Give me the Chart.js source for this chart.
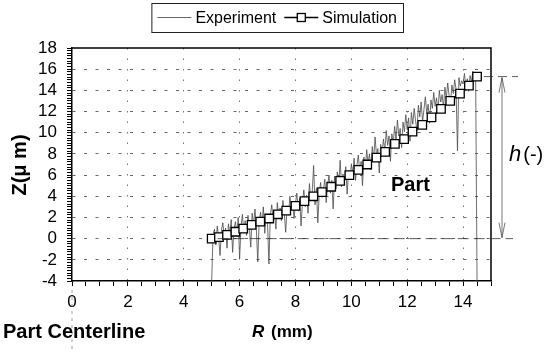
<!DOCTYPE html>
<html><head><meta charset="utf-8">
<script src="https://cdn.jsdelivr.net/npm/chart.js@4/dist/chart.umd.min.js"></script>
<style>html,body{margin:0;padding:0;background:#fff;}#wrap{width:544px;height:352px;}</style>
</head><body><div id="wrap"><canvas id="c" width="544" height="352"></canvas></div>
<script>
// ---- data ----
const simR = [5.0, 5.26, 5.55, 5.85, 6.13, 6.43, 6.74, 7.06, 7.37, 7.67, 8.0, 8.32, 8.64, 8.95, 9.28, 9.6, 9.93, 10.25, 10.57, 10.9, 11.21, 11.56, 11.89, 12.19, 12.54, 12.87, 13.21, 13.54, 13.89, 14.21, 14.5];
const simZ = [0, 0.15, 0.35, 0.65, 0.95, 1.3, 1.6, 1.9, 2.3, 2.65, 3.1, 3.55, 4.0, 4.4, 4.9, 5.45, 6.0, 6.5, 7.0, 7.65, 8.2, 8.95, 9.4, 10.1, 10.75, 11.45, 12.25, 13.0, 13.7, 14.45, 15.3];
const expStartR = 5.0;
const expStepR = 0.05;
const expZ = [
 -4.0, 0.4, 0.9, -0.6, 1.2, 0.1, -1.6, 0.8, 1.5, 0.2,
 1.0, -0.9, 1.4, 0.5, 1.8, -1.3, 0.9, 1.6, 0.4, 2.0,
 -1.9, 1.1, 2.3, 0.6, 1.7, 0.3, 2.2, 1.0, -0.8, 2.4,
 1.3, 2.8, 0.9, -2.2, 1.6, 2.5, 1.2, 3.0, 0.5, 2.1,
 1.4, -2.4, 2.2, 3.2, 1.8, 2.6, 0.9, 3.4, 2.0, 2.9,
 1.7, 3.6, 2.4, 0.6, 3.1, 2.2, 4.0, 2.7, 3.5, 1.9,
 3.3, 4.3, 2.6, 3.8, 1.2, 3.5, 4.6, 3.0, 4.1, 2.4,
 5.2, 3.6, 4.4, 6.9, 3.2, 4.8, 1.5, 4.2, 5.3, 3.9,
 4.6, 5.6, 3.4, 5.0, 6.0, 4.3, 5.5, 2.8, 5.9, 4.7,
 6.3, 5.1, 7.4, 4.9, 6.1, 5.4, 6.8, 4.2, 6.4, 5.7,
 7.0, 6.2, 7.6, 5.5, 6.9, 7.9, 6.3, 7.3, 5.0, 7.7,
 6.6, 8.4, 7.1, 8.0, 6.5, 8.7, 7.4, 9.6, 7.9, 8.5,
 6.2, 8.9, 8.1, 9.4, 8.3, 10.2, 8.8, 9.7, 7.3, 9.9,
 9.0, 10.6, 9.3, 11.2, 9.7, 10.4, 8.6, 11.0, 10.1, 11.7,
 10.3, 11.4, 9.2, 11.9, 10.8, 12.3, 11.1, 10.2, 12.6, 11.5,
 12.9, 11.0, 12.2, 13.4, 11.8, 12.7, 10.9, 13.1, 12.3, 13.8,
 12.5, 13.3, 11.9, 14.0, 12.9, 13.6, 12.4, 14.3, 13.2, 14.7,
 13.5, 12.8, 14.5, 13.7, 15.0, 14.1, 8.3, 15.2, 14.4, 14.9,
 14.6, 15.6, 14.2, 15.1, 13.9, 15.4, 14.8, 15.8, 15.0, 15.5,
 -4.0
];
const xTickLabels = [0, 2, 4, 6, 8, 10, 12, 14];
const yTickLabels = [-4, -2, 0, 2, 4, 6, 8, 10, 12, 14, 16, 18];
const seriesNames = ['Experiment', 'Simulation'];
const heightLevels = [0, 15.3]; // h(-) annotation levels (µm)

// ---- build ----
const FONT = "'Liberation Sans', Arial, sans-serif";
const simPts = simR.map((r, i) => ({x: r, y: simZ[i]}));
const expPts = expZ.map((z, i) => ({x: +(expStartR + i * expStepR).toFixed(3), y: z}));
const isX = v => xTickLabels.some(t => Math.abs(t - v) < 1e-9);
const isY = v => yTickLabels.some(t => Math.abs(t - v) < 1e-9);

const annot = {
  id: 'annot',
  afterDraw(chart) {
    const {ctx, chartArea: a, scales: {x, y}} = chart;
    ctx.save();
    // frame top/right
    ctx.strokeStyle = '#000'; ctx.lineWidth = 1.5; ctx.setLineDash([]);
    ctx.beginPath(); ctx.moveTo(a.left, a.top); ctx.lineTo(a.right, a.top); ctx.lineTo(a.right, a.bottom); ctx.stroke();

    // h annotation
    const y0 = y.getPixelForValue(heightLevels[0]);
    const y1 = y.getPixelForValue(heightLevels[1]);
    ctx.strokeStyle = '#333'; ctx.lineWidth = 0.8;
    ctx.setLineDash([11, 5]);
    ctx.beginPath(); ctx.moveTo(x.getPixelForValue(simR[0]) + 6, y0); ctx.lineTo(513, y0); ctx.stroke();
    ctx.setLineDash([9, 5]);
    ctx.beginPath(); ctx.moveTo(x.getPixelForValue(simR[simR.length - 1]) + 7, y1); ctx.lineTo(518, y1); ctx.stroke();
    ctx.setLineDash([]);
    const ax = 502;
    ctx.strokeStyle = '#555'; ctx.lineWidth = 0.8;
    ctx.beginPath(); ctx.moveTo(ax, y1 + 1); ctx.lineTo(ax, y0 - 1); ctx.stroke();
    ctx.beginPath();
    ctx.moveTo(ax - 3, y1 + 16); ctx.lineTo(ax, y1 + 1); ctx.lineTo(ax + 3, y1 + 16);
    ctx.moveTo(ax - 3, y0 - 16); ctx.lineTo(ax, y0 - 1); ctx.lineTo(ax + 3, y0 - 16);
    ctx.stroke();
    ctx.fillStyle = '#000'; ctx.textBaseline = 'middle'; ctx.textAlign = 'left';
    ctx.font = 'italic 22px ' + FONT;
    ctx.fillText('h', 509, 155);
    const hw = ctx.measureText('h').width;
    ctx.font = '20px ' + FONT;
    ctx.fillText('(-)', 509 + hw + 2, 155);

    // Part label
    ctx.font = 'bold 20px ' + FONT;
    ctx.fillText('Part', 391, 185);

    // centerline
    const cx = x.getPixelForValue(0);
    ctx.strokeStyle = '#888'; ctx.lineWidth = 0.8; ctx.setLineDash([3, 4]);
    ctx.beginPath(); ctx.moveTo(cx, 290); ctx.lineTo(cx, 352); ctx.stroke();
    ctx.setLineDash([]);
    ctx.fillStyle = '#000';
    ctx.font = 'bold 20px ' + FONT;
    ctx.textAlign = 'left';
    ctx.fillText('Part Centerline', 3, 332);

    // x title
    ctx.font = 'bold italic 17px ' + FONT;
    ctx.fillText('R', 252, 332);
    const rw = ctx.measureText('R').width;
    ctx.font = 'bold 17px ' + FONT;
    ctx.fillText(' (mm)', 252 + rw + 2, 332);

    // y title
    ctx.save();
    ctx.translate(20, 165); ctx.rotate(-Math.PI / 2);
    ctx.textAlign = 'center';
    ctx.font = 'bold 20px ' + FONT;
    ctx.fillText('Z(\u03bc m)', 0, 0);
    ctx.restore();

    // legend
    ctx.font = '16px ' + FONT;
    const w1 = ctx.measureText(seriesNames[0]).width;
    const w2 = ctx.measureText(seriesNames[1]).width;
    const sample = 34, pad = 6, gap = 4, gap2 = 8;
    const total = pad + sample + gap + w1 + gap2 + sample + gap + w2 + pad;
    const right = 403, left = right - total, top = 3, h = 29, my = top + h / 2;
    ctx.strokeStyle = '#222'; ctx.lineWidth = 1;
    ctx.strokeRect(left + 0.5, top + 0.5, total, h);
    let px = left + pad;
    ctx.strokeStyle = '#555'; ctx.lineWidth = 0.9;
    ctx.beginPath(); ctx.moveTo(px, my); ctx.lineTo(px + sample, my); ctx.stroke();
    px += sample + gap;
    ctx.fillStyle = '#000'; ctx.textBaseline = 'middle';
    ctx.fillText(seriesNames[0], px, my + 1);
    px += w1 + gap2;
    ctx.strokeStyle = '#000'; ctx.lineWidth = 1.6;
    ctx.beginPath(); ctx.moveTo(px, my); ctx.lineTo(px + sample, my); ctx.stroke();
    ctx.fillStyle = '#fff'; ctx.lineWidth = 1.3;
    ctx.fillRect(px + sample / 2 - 4, my - 4, 8, 8);
    ctx.strokeRect(px + sample / 2 - 4, my - 4, 8, 8);
    px += sample + gap;
    ctx.fillStyle = '#000';
    ctx.fillText(seriesNames[1], px, my + 1);
    ctx.restore();
  }
};

new Chart(document.getElementById('c'), {
  type: 'scatter',
  data: {
    datasets: [
      {label: seriesNames[0], data: expPts, showLine: true, borderColor: '#4a4a4a', borderWidth: 0.8, pointRadius: 0, tension: 0, order: 2},
      {label: seriesNames[1], data: simPts, showLine: true, borderColor: '#000', borderWidth: 1.6, tension: 0,
       pointStyle: 'rect', pointRadius: 6, pointBackgroundColor: '#fff', pointBorderColor: '#000', pointBorderWidth: 1.3, order: 1}
    ]
  },
  options: {
    responsive: false, animation: false, devicePixelRatio: 1,
    layout: {padding: {top: 48, right: 53, left: 0, bottom: 0}},
    plugins: {legend: {display: false}, tooltip: {enabled: false}},
    scales: {
      x: {
        type: 'linear', min: 0, max: 15,
        afterFit(s) { s.height = 71; },
        ticks: {stepSize: 0.5, autoSkip: false, maxRotation: 0, color: '#000', padding: 6,
          font: {family: FONT, size: 17},
          callback: v => isX(v) ? String(v) : ''},
        grid: {color: c => (c.tick && isX(c.tick.value) && c.tick.value > 0) ? '#777' : 'rgba(0,0,0,0)',
          lineWidth: 1, tickColor: '#000', tickLength: 5, tickWidth: 1},
        border: {color: '#000', width: 1.5, dash: [1.5, 9]}
      },
      y: {
        type: 'linear', min: -4, max: 18,
        afterFit(s) { s.width = 72; },
        ticks: {stepSize: 0.25, autoSkip: false, color: '#000', padding: 10,
          font: {family: FONT, size: 17},
          callback: v => isY(v) ? String(v) : ''},
        grid: {color: c => (c.tick && isY(c.tick.value) && c.tick.value > -4 && c.tick.value < 18) ? '#666' : 'rgba(0,0,0,0)',
          lineWidth: 1, tickColor: '#000', tickLength: 5, tickWidth: 1},
        border: {color: '#000', width: 1.5, dash: [3, 8.5]}
      }
    }
  },
  plugins: [annot]
});
</script>
</body></html>
